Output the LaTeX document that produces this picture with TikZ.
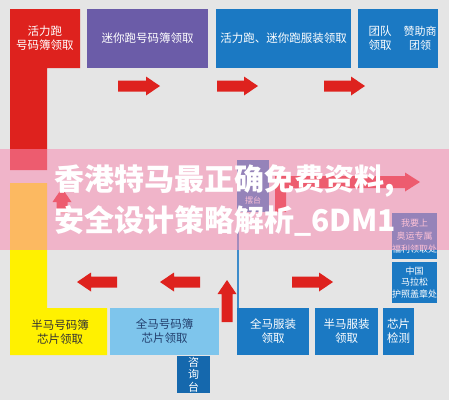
\documentclass[tikz,border=0pt]{standalone}
\usepackage{fontspec}
\newfontfamily\cjk{Noto Sans CJK SC}
\definecolor{bg}{RGB}{229,229,229}
\definecolor{arrred}{RGB}{222,34,30}
\definecolor{boxred}{RGB}{222,34,30}
\definecolor{boxpurple}{RGB}{107,92,168}
\definecolor{boxblue}{RGB}{27,121,195}
\definecolor{boxlight}{RGB}{126,197,236}
\definecolor{boxyellow}{RGB}{255,241,0}
\definecolor{boxdark}{RGB}{21,104,173}
\definecolor{linecol}{RGB}{61,140,203}
\definecolor{bannerpink}{RGB}{250,140,178}
\definecolor{navytext}{RGB}{35,64,110}
\begin{document}
\begin{tikzpicture}[x=1pt,y=-1pt,
  box/.style={anchor=north west, inner sep=0, outer sep=0, text=white, align=center,
    font=\cjk\fontsize{11.5}{14}\selectfont},
  lbl/.style={inner sep=0, text=white, align=center, font=\cjk\fontsize{11.5}{14}\selectfont},
  small/.style={inner sep=0, text=white, align=center, font=\cjk\fontsize{9}{11}\selectfont},
  banner/.style={anchor=west, inner sep=0, text=white, font=\cjk\bfseries\fontsize{30}{30}\selectfont},
  pics/fatarr/.style={code={\fill[arrred] (0,-5.5) -- ({#1-14},-5.5) -- ({#1-14},-9.5) -- (#1,0) -- ({#1-14},9.5) -- ({#1-14},5.5) -- (0,5.5) -- cycle;}}
]
\fill[bg] (0,0) rectangle (449,400);
\useasboundingbox (0,0) rectangle (449,400);

% red L
\fill[boxred] (10,9) -- (80,9) -- (80,68) -- (47,68) -- (47,170) -- (10,170) -- cycle;
\node[lbl] (hlp) at (45,38.5) {活力跑\\号码簿领取};
% yellow L
\fill[boxyellow] (10,183) -- (47,183) -- (47,308) -- (107,308) -- (107,355) -- (10,355) -- cycle;
\node[lbl, text=black!80] (bmhm) at (60,332) {半马号码簿\\芯片领取};

% top row
\node[box, fill=boxpurple, minimum width=121, minimum height=59] (mnp) at (87,9) {迷你跑号码簿领取};
\node[box, fill=boxblue, minimum width=135, minimum height=59] (hlfz) at (216,9) {活力跑、迷你跑服装领取};
\node[box, fill=boxblue, minimum width=80, minimum height=59] (td) at (358,9) {};
\node[lbl] (tdlq) at (380,38.5) {团队\\领取};
\node[lbl, font=\cjk\fontsize{11}{14}\selectfont] (zzs) at (420,38.5) {赞助商\\团领};

% bottom row
\node[box, fill=boxlight, text=navytext, minimum width=109, minimum height=47] (qmhm) at (110,308) {全马号码簿\\芯片领取};
\node[box, fill=boxdark, minimum width=33, minimum height=37, font=\cjk\fontsize{11}{12.5}\selectfont] (zxt) at (177,356) {咨\\询\\台};
\node[box, fill=boxblue, minimum width=72, minimum height=47] (qmfz) at (237,308) {全马服装\\领取};
\node[box, fill=boxblue, minimum width=63, minimum height=47] (bmfz) at (315,308) {半马服装\\领取};
\node[box, fill=boxblue, minimum width=31, minimum height=47] (xpjc) at (383,308) {芯片\\检测};

% right column
\node[box, fill=boxblue, minimum width=45, minimum height=46, font=\cjk\fontsize{9}{13}\selectfont] (ay) at (392,213) {我要上\\奥运专属\\福利领取处};
\node[box, fill=boxblue, minimum width=45, minimum height=41, font=\cjk\fontsize{9}{11.5}\selectfont] (zg) at (392,262) {中国\\马拉松\\护照盖章处};

% baitai
\node[box, fill=boxblue, minimum width=32, minimum height=52] (bt) at (237,160) {};
\node[small, font=\cjk\fontsize{8}{9}\selectfont] (btl) at (253,200) {摆台};
\draw[linecol, line width=1.5pt] ([xshift=0.75pt]bt.south west) -- ([xshift=0.75pt]qmfz.north west);

% arrows
\pic at (118,86) {fatarr=42};
\pic at (217,86) {fatarr=41};
\pic at (324,86) {fatarr=41};
\pic[rotate=180] at (117,282) {fatarr=40};
\pic[rotate=180] at (200,282) {fatarr=40};
\pic[rotate=90] at (227,322) {fatarr=42};
\pic at (292,282) {fatarr=41};
\pic[rotate=90] at (62,213) {fatarr=25};
\fill[arrred] (275,212) -- (275,176) -- (405,176) -- (405,172.5) -- (420,182) -- (405,191.5) -- (405,188) -- (286,188) -- (286,212) -- cycle;

% banner overlay
\fill[bannerpink, opacity=0.55] (0,149) rectangle (449,250);
\node[banner] (b1) at (54,181) {香港特马最正确免费资料,};
\node[banner] (b2) at (54,221) {安全设计策略解析\_6DM1};
\end{tikzpicture}
\end{document}
